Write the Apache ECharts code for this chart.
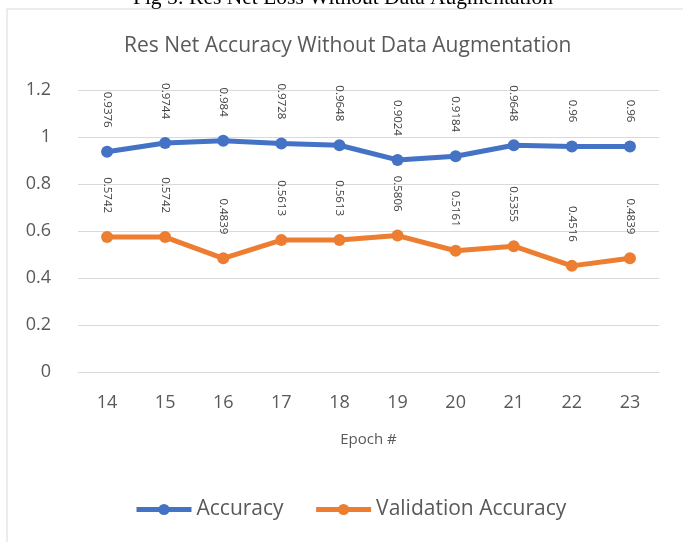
<!DOCTYPE html>
<html><head><meta charset="utf-8">
<script src="https://cdn.jsdelivr.net/npm/echarts@6/dist/echarts.min.js"></script>
<style>html,body{margin:0;padding:0;background:#fff}#c{width:683px;height:542px}</style>
</head><body><div id="c"></div>
<script>
var categories = ['14','15','16','17','18','19','20','21','22','23'];
var accuracy = [0.9376, 0.9744, 0.984, 0.9728, 0.9648, 0.9024, 0.9184, 0.9648, 0.96, 0.96];
var valAccuracy = [0.5742, 0.5742, 0.4839, 0.5613, 0.5613, 0.5806, 0.5161, 0.5355, 0.4516, 0.4839];
var FONT = '"Open Sans", sans-serif';
var chart = echarts.init(document.getElementById('c'));
var lbl = {
  show: true, position: 'top', rotate: -90, distance: 18,
  align: 'right', verticalAlign: 'middle',
  fontSize: 11.5, color: '#404040', fontFamily: FONT,
  formatter: function(p){ return String(p.value); }
};
chart.setOption({
  animation: false,
  graphic: [
    {type: 'rect', shape: {x: 7, y: 9, width: 700, height: 560}, style: {fill: 'none', stroke: '#d9d9d9', lineWidth: 1}},
    {type: 'text', x: 343, y: 9, style: {text: 'Fig 5: Res Net Loss Without Data Augmentation', font: '21.5px "Liberation Serif", serif', fill: '#000', align: 'center', verticalAlign: 'bottom'}}
  ],
  title: {
    text: 'Res Net Accuracy Without Data Augmentation',
    left: 119, top: 31,
    textStyle: {fontFamily: FONT, fontSize: 21, fontWeight: 'normal', color: '#595959'}
  },
  legend: {
    top: 494, left: 129, itemWidth: 55, itemHeight: 14, itemGap: 30,
    lineStyle: {width: 5},
    textStyle: {fontFamily: FONT, fontSize: 21, color: '#595959'},
    data: ['Accuracy', 'Validation Accuracy']
  },
  grid: {left: 78, right: 24, top: 90, bottom: 170},
  xAxis: {
    type: 'category', data: categories, boundaryGap: true,
    name: 'Epoch #', nameLocation: 'middle', nameGap: 60,
    nameTextStyle: {fontFamily: FONT, fontSize: 15, color: '#595959'},
    axisLine: {lineStyle: {color: '#d9d9d9'}}, axisTick: {show: false},
    axisLabel: {fontFamily: FONT, fontSize: 18, color: '#595959', margin: 22}
  },
  yAxis: {
    type: 'value', min: 0, max: 1.2, interval: 0.2,
    axisLine: {show: false}, axisTick: {show: false},
    splitLine: {lineStyle: {color: '#d9d9d9'}},
    axisLabel: {fontFamily: FONT, fontSize: 18, color: '#595959', margin: 27}
  },
  series: [
    {name: 'Accuracy', type: 'line', data: accuracy, symbol: 'circle', symbolSize: 12,
     lineStyle: {width: 5, color: '#4472C4'}, itemStyle: {color: '#4472C4'}, label: lbl},
    {name: 'Validation Accuracy', type: 'line', data: valAccuracy, symbol: 'circle', symbolSize: 12,
     lineStyle: {width: 5, color: '#ED7D31'}, itemStyle: {color: '#ED7D31'}, label: lbl}
  ]
});
</script></body></html>
